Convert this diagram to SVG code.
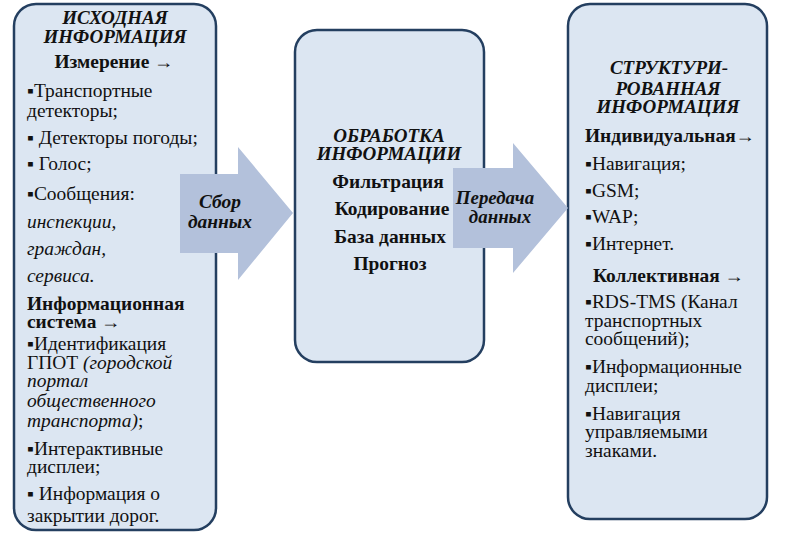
<svg xmlns="http://www.w3.org/2000/svg" width="807" height="536" viewBox="0 0 807 536" font-family="Liberation Serif, serif">
<style>
text{font-family:'Liberation Serif',serif;fill:#111;font-size:18px}
.box{fill:#dce6f2;stroke:#243f60;stroke-width:2.5}
.arr{fill:#b3c1db}
.h{font-weight:bold;font-style:italic;font-size:19px;text-anchor:middle}
.b{font-weight:bold}
.bc{font-weight:bold;text-anchor:middle}
.i{font-style:italic}
.al{font-weight:bold;font-style:italic;text-anchor:middle}
</style>
<rect width="807" height="536" fill="#fff"/>
<g id="source">
<rect class="box" x="14" y="4" width="202" height="526" rx="22"/>
<text class="h" x="115" y="24">ИСХОДНАЯ</text>
<text class="h" x="115" y="43">ИНФОРМАЦИЯ</text>
<text class="bc" transform="translate(114 68) scale(1.08 1)">Измерение →</text>
<g transform="translate(27 0) scale(1.08 1)">
<text x="0" y="97">▪Транспортные</text>
<text x="0" y="117">детекторы;</text>
<text x="0" y="144">▪ Детекторы погоды;</text>
<text x="0" y="170">▪ Голос;</text>
<text x="0" y="200">▪Сообщения:</text>
<text class="i" x="0" y="228">инспекции,</text>
<text class="i" x="0" y="255">граждан,</text>
<text class="i" x="0" y="282">сервиса.</text>
<text class="b" x="0" y="310">Информационная</text>
<text class="b" x="0" y="328">система →</text>
<text x="0" y="350">▪Идентификация</text>
<text x="0" y="369">ГПОТ <tspan class="i">(городской</tspan></text>
<text class="i" x="0" y="387">портал</text>
<text class="i" x="0" y="407">общественного</text>
<text x="0" y="427"><tspan class="i">транспорта)</tspan>;</text>
<text x="0" y="455">▪Интерактивные</text>
<text x="0" y="473">дисплеи;</text>
<text x="0" y="500">▪ Информация о</text>
<text x="0" y="522">закрытии дорог.</text>
</g>
</g>
<g id="processing">
<rect class="box" x="295" y="30" width="189" height="332" rx="22"/>
<text class="h" x="389" y="142">ОБРАБОТКА</text>
<text class="h" x="389" y="160">ИНФОРМАЦИИ</text>
<text class="bc" transform="translate(388 188) scale(1.08 1)">Фильтрация</text>
<text class="bc" transform="translate(392 215) scale(1.08 1)">Кодирование</text>
<text class="bc" transform="translate(390 243) scale(1.08 1)">База данных</text>
<text class="bc" transform="translate(390 270) scale(1.08 1)">Прогноз</text>
</g>
<g id="structured">
<rect class="box" x="568" y="4" width="199" height="515" rx="22"/>
<text class="h" x="669" y="74">СТРУКТУРИ-</text>
<text class="h" x="668" y="95">РОВАННАЯ</text>
<text class="h" x="668" y="113">ИНФОРМАЦИЯ</text>
<g transform="translate(585 0) scale(1.08 1)">
<text class="b" x="0" y="142">Индивидуальная→</text>
<text x="0" y="170">▪Навигация;</text>
<text x="0" y="197">▪GSM;</text>
<text x="0" y="223">▪WAP;</text>
<text x="0" y="250">▪Интернет.</text>
<text class="b" x="7.4" y="282">Коллективная →</text>
<text x="0" y="308">▪RDS-TMS (Канал</text>
<text x="0" y="327">транспортных</text>
<text x="0" y="345">сообщений);</text>
<text x="0" y="373">▪Информационные</text>
<text x="0" y="392">дисплеи;</text>
<text x="0" y="420">▪Навигация</text>
<text x="0" y="438">управляемыми</text>
<text x="0" y="457">знаками.</text>
</g>
</g>
<g id="connectors">
<g id="collect">
<path class="arr" d="M180,174 H238 V147 L293,213 L238,280 V253 H180 Z"/>
<text class="al" transform="translate(220 208) scale(1.08 1)">Сбор</text>
<text class="al" transform="translate(220 228) scale(1.08 1)">данных</text>
</g>
<g id="transfer">
<path class="arr" d="M453,168 H513 V143 L568,208 L513,273 V248 H453 Z"/>
<text class="al" transform="translate(495 204) scale(1.05 1)">Передача</text>
<text class="al" transform="translate(500 223) scale(1.05 1)">данных</text>
</g>
</g>
</svg>
